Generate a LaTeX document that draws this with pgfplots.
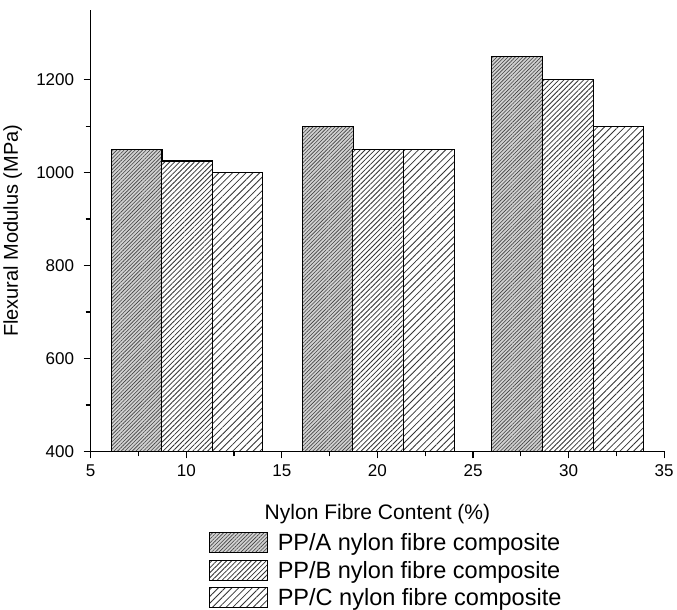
\documentclass[border=0pt]{standalone}
\usepackage{pgfplots}
\pgfplotsset{compat=1.18}
\usepackage{fontspec}
\setmainfont{Liberation Sans}
\usetikzlibrary{patterns.meta}
\begin{document}
\begin{tikzpicture}
\begin{axis}[
  scale only axis, axis on top,
  width=573pt, height=441pt,
  xmin=5, xmax=35, ymin=400, ymax=1350,
  axis x line*=bottom, axis y line*=left,
  axis line style={line width=1.3pt,-},
  xtick={5,10,...,35}, ytick={400,600,...,1200},
  minor x tick num=1, minor y tick num=1,
  tick align=outside,
  major tick length=7pt, minor tick length=5pt,
  tick style={line width=1.2pt,black},
  /pgf/number format/assume math mode=true,
  /pgf/number format/1000 sep={},
  ticklabel style={font=\fontsize{17}{19}\selectfont},
  xticklabel style={yshift=-3pt},
  yticklabel style={xshift=-6pt},
  xlabel={Nylon Fibre Content (\%)},
  ylabel={Flexural Modulus (MPa)},
  xlabel style={font=\fontsize{21}{23}\selectfont, at={(axis description cs:0.5,-0.155)}, anchor=base},
  ylabel style={font=\fontsize{20}{22}\selectfont, at={(axis description cs:-0.127,0.5)}, anchor=base},
  ybar, bar width=2.66, bar shift=0pt,
  legend style={at={(axis description cs:0.515,-0.181)}, anchor=north, draw=none, fill=none,
    font=\fontsize{23.5}{25}\selectfont, row sep=5pt, inner sep=0pt,
    cells={anchor=west}},
  legend image code/.code={\draw[#1] (0pt,-10pt) rectangle (58pt,10pt); \path (66pt,0pt);},
]
\addplot[draw=black, line width=1.1pt, fill=black!18,
  postaction={pattern={Lines[angle=45,distance=2.6pt,line width=0.6pt]}, pattern color=black!75}]
  coordinates {(7.4,1050) (17.4,1100) (27.29,1250)};
\addlegendentry{PP/A nylon fibre composite}
\addplot[draw=black, line width=1.1pt, fill=white,
  postaction={pattern={Lines[angle=45,distance=3.5pt,line width=0.8pt]}, pattern color=black!80}]
  coordinates {(10.04,1025) (20.04,1050) (29.95,1200)};
\addlegendentry{PP/B nylon fibre composite}
\addplot[draw=black, line width=1.1pt, fill=white,
  postaction={pattern={Lines[angle=45,distance=4.8pt,line width=0.8pt]}, pattern color=black!80}]
  coordinates {(12.68,1000) (22.68,1050) (32.61,1100)};
\addlegendentry{PP/C nylon fibre composite}
\end{axis}
\path ([yshift=10pt]current axis.north west);
\end{tikzpicture}
\end{document}
